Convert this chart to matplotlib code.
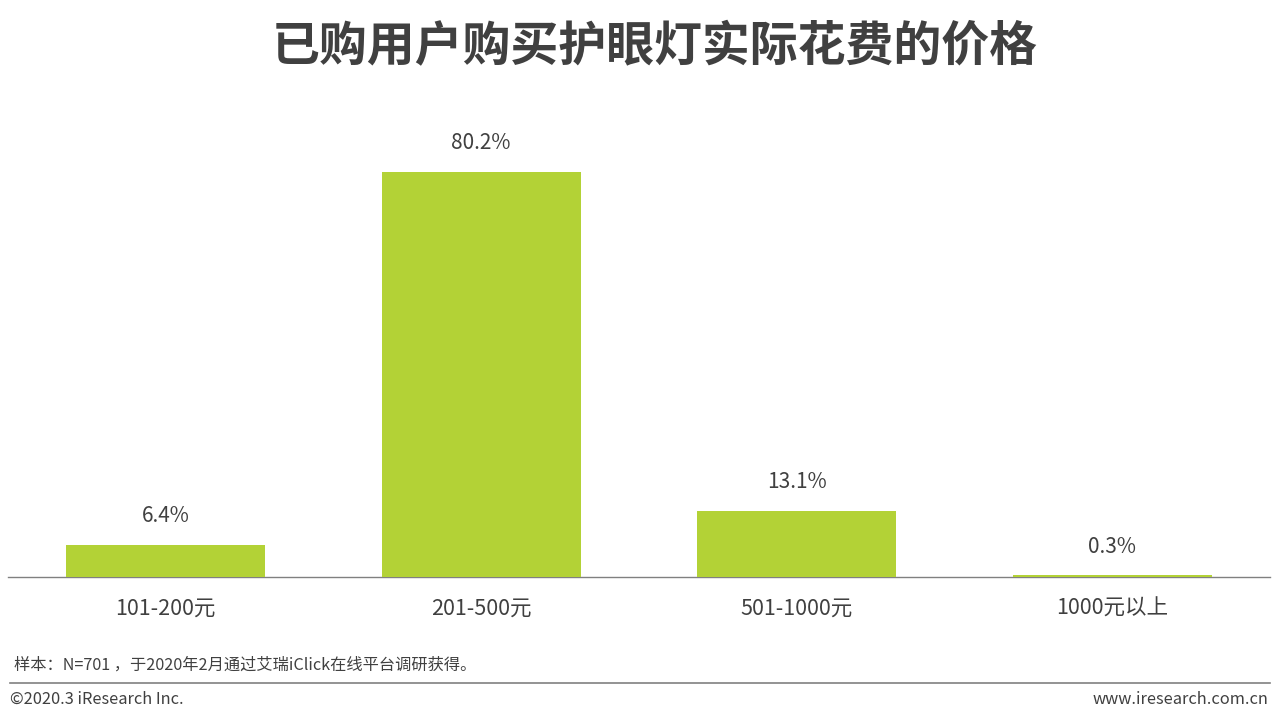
import matplotlib as mpl
mpl.use("Agg")
import matplotlib.pyplot as plt

plt.rcParams["font.family"] = ["Noto Sans CJK SC", "DejaVu Sans"]

categories = ["101-200元", "201-500元", "501-1000元", "1000元以上"]
shares = [6.4, 80.2, 13.1, 0.3]
title = "已购用户购买护眼灯实际花费的价格"
note = "样本：N=701 ，于2020年2月通过艾瑞iClick在线平台调研获得。"

W, H = 1280, 724
fig = plt.figure(figsize=(W / 100, H / 100), dpi=100)
ax = fig.add_axes([8 / W, 1 - 577 / H, 1262 / W, 455 / H])
x = range(len(categories))
ax.bar(x, shares, width=0.63, color="#B3D236", zorder=3)
for i, v in enumerate(shares):
    ax.text(i, v + 3.5, f"{v}%", ha="center", va="bottom", fontsize=15, color="#404040")
ax.set_xlim(-0.5, 3.5)
ax.set_ylim(0, 90)
ax.set_xticks(list(x))
ax.set_xticklabels(categories, fontsize=15.5, color="#404040")
ax.tick_params(axis="x", length=0, pad=15)
ax.set_yticks([])
for s in ["top", "right", "left"]:
    ax.spines[s].set_visible(False)
ax.spines["bottom"].set_color("#808080")
ax.spines["bottom"].set_linewidth(1.0)

fig.text(655 / W, 1 - 47 / H, title, ha="center", va="center", fontsize=34.5,
         fontweight="bold", color="#404040")
fig.text(14 / W, 1 - 665 / H, note, ha="left", va="center", fontsize=11.7, color="#404040")
fig.add_artist(plt.Line2D([10 / W, 1270 / W], [1 - 683 / H, 1 - 683 / H],
                          color="#808080", lw=1.2))
fig.text(10 / W, 1 - 699 / H, "©2020.3 iResearch Inc.", ha="left", va="center",
         fontsize=11.8, color="#404040")
fig.text(1268 / W, 1 - 699 / H, "www.iresearch.com.cn", ha="right", va="center",
         fontsize=11.8, color="#404040")
fig.savefig("out.png", dpi=100)
